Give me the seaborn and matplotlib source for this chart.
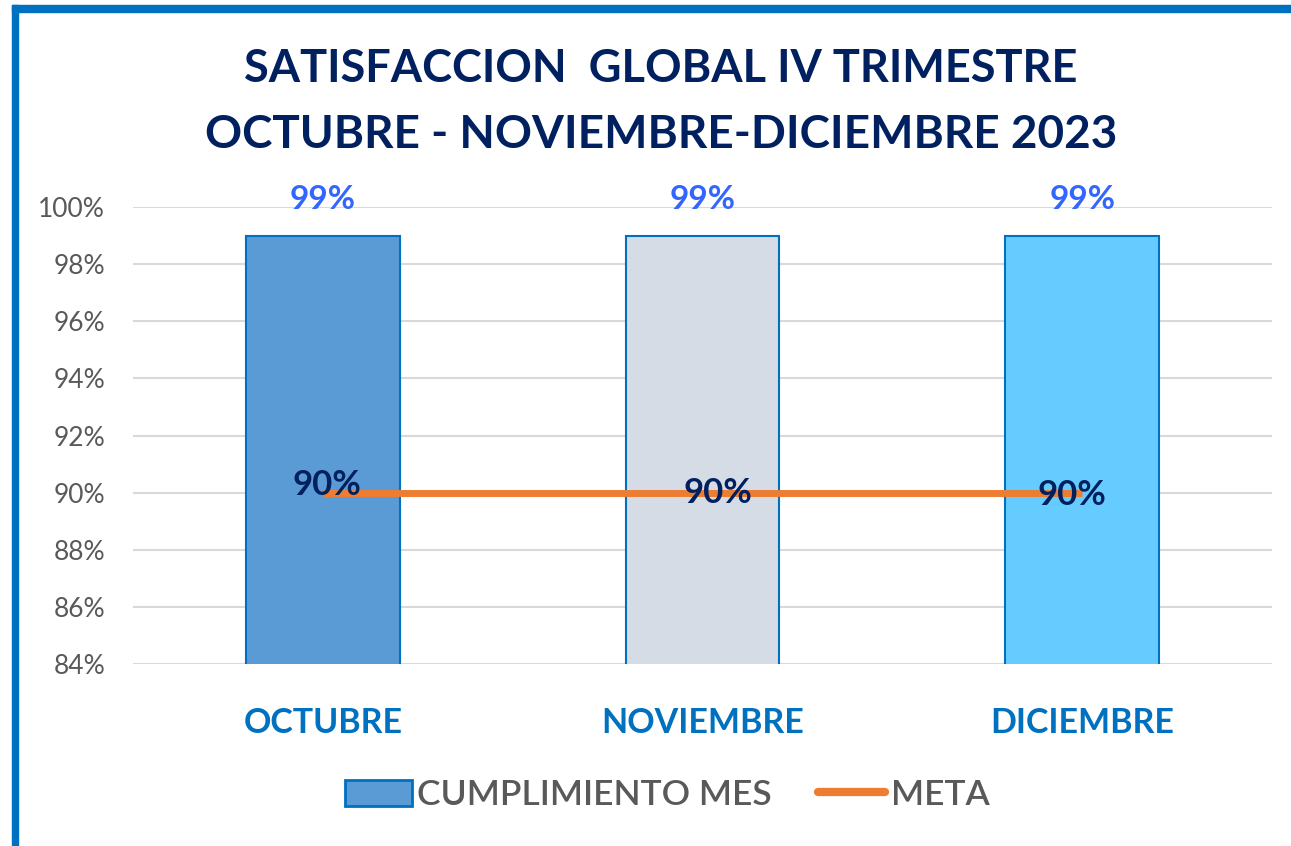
import numpy as np
import pandas as pd
import matplotlib.pyplot as plt
import seaborn as sns
from matplotlib.patches import Patch, Rectangle
from matplotlib.lines import Line2D
from matplotlib.ticker import PercentFormatter

sns.set_style('white')
plt.rcParams['font.family'] = ['Lato', 'DejaVu Sans']

meses = ['OCTUBRE', 'NOVIEMBRE', 'DICIEMBRE']
cumplimiento = [99, 99, 99]
meta = [90, 90, 90]
colores = ['#5B9BD5', '#D6DCE5', '#66CCFF']

df = pd.DataFrame({'mes': meses, 'cumplimiento': cumplimiento, 'meta': meta})

fig = plt.figure(figsize=(12.91, 8.46), dpi=100)
ax = fig.add_axes([133 / 1291, 1 - 664 / 846, 1139 / 1291, 457 / 846])

sns.barplot(data=df, x='mes', y='cumplimiento', hue='mes', palette=colores, saturation=1,
            width=0.405, edgecolor='#0070C0', linewidth=1.5, legend=False, ax=ax)
ax.plot(range(len(meses)), meta, color='#ED7D31', linewidth=5, solid_capstyle='butt')

ax.set_ylim(84, 100)
ax.set_xlim(-0.5, 2.5)
ax.set_yticks(np.arange(84, 101, 2))
ax.yaxis.set_major_formatter(PercentFormatter(decimals=0))
ax.grid(axis='y', color='#D9D9D9', linewidth=1.5)
ax.set_axisbelow(True)
sns.despine(ax=ax, left=True, bottom=True)
ax.tick_params(axis='y', labelsize=19, labelcolor='#595959', length=0, pad=20)
ax.tick_params(axis='x', labelsize=24.5, labelcolor='#0070C0', length=0, pad=31)
for lbl in ax.get_xticklabels():
    lbl.set_fontweight('bold')
ax.set_xlabel('')
ax.set_ylabel('')

# etiquetas de datos
for i, v in enumerate(cumplimiento):
    ax.text(i, 99.75, f'{v}%', ha='center', va='bottom', fontsize=24,
            color='#3366FF', fontweight='bold', clip_on=False)
offsets = [(0.011, 0.28), (0.04, 0.0), (-0.027, -0.1)]
for i, v in enumerate(meta):
    dx, dy = offsets[i]
    ax.text(i + dx, v + dy, f'{v}%', ha='center', va='center', fontsize=25,
            color='#002060', fontweight='bold')

fig.text(661 / 1291, 1 - 69 / 846, 'SATISFACCION  GLOBAL IV TRIMESTRE', ha='center', va='center',
         fontsize=32.5, fontweight='bold', color='#002060')
fig.text(661 / 1291, 1 - 135 / 846, 'OCTUBRE - NOVIEMBRE-DICIEMBRE 2023', ha='center', va='center',
         fontsize=33, fontweight='bold', color='#002060')

handles = [Patch(facecolor='#5B9BD5', edgecolor='#0070C0', linewidth=2, label='CUMPLIMIENTO MES'),
           Line2D([], [], color='#ED7D31', linewidth=6, solid_capstyle='round', label='META')]
leg = fig.legend(handles=handles, loc='center', bbox_to_anchor=(667 / 1291, 1 - 795 / 846), ncol=2,
                 frameon=False, fontsize=25.5, labelcolor='#595959', handlelength=1.9,
                 handleheight=0.75, handletextpad=0.15, columnspacing=1.3)
for t in leg.get_texts():
    t.set_fontweight('semibold')

# marco azul
fig.patches.append(Rectangle((12 / 1291, 0), 6 / 1291, 1 - 5 / 846, transform=fig.transFigure,
                             color='#0070C0', zorder=0))
fig.patches.append(Rectangle((12 / 1291, 1 - 12 / 846), 1 - 12 / 1291, 7 / 846,
                             transform=fig.transFigure, color='#0070C0', zorder=0))

fig.savefig('out.png', dpi=100)
